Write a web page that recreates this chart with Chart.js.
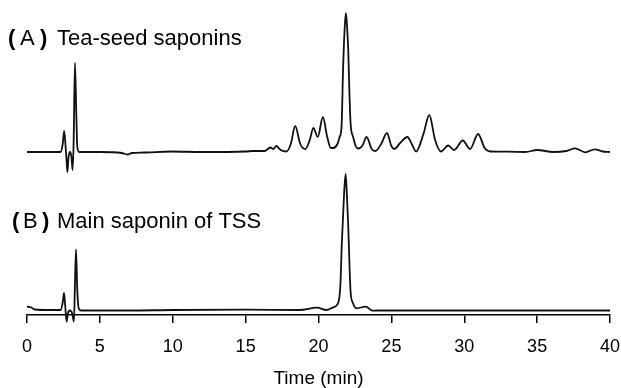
<!DOCTYPE html>
<html>
<head>
<meta charset="utf-8">
<script src="https://cdn.jsdelivr.net/npm/chart.js@4"></script>
<style>
  html, body { margin: 0; padding: 0; background: #fff; }
  #wrap { width: 621px; height: 388px; position: relative; }
</style>
</head>
<body>
<div id="wrap"><canvas id="c"></canvas></div>
<script>
// retention time (min) and detector response
const timeA = [0, 1.5, 2.3, 2.45, 2.55, 2.65, 2.72, 2.77, 2.85, 2.95, 3.05, 3.13, 3.2, 3.29, 3.38, 3.45, 3.59,
  5, 6.5, 6.9, 7.2, 8, 9.9, 12, 15, 15.5, 16.3, 16.7, 16.9, 17.1, 17.4, 17.8, 18.1, 18.4, 18.75, 19.1, 19.4,
  19.65, 19.95, 20.3, 20.6, 20.85, 21.0, 21.3, 21.45, 21.58, 21.69, 21.8, 21.88, 21.96, 22.04, 22.12, 22.2,
  22.38, 22.55, 22.72, 23.0, 23.3, 23.65, 23.9, 24.3, 24.7, 25.0, 25.2, 25.6, 26.1, 26.4, 26.7, 27.2, 27.6,
  28.0, 28.4, 28.9, 29.3, 29.9, 30.4, 30.95, 31.4, 31.8, 33, 34.2, 35.0, 36.1, 37.0, 37.6, 38.3, 38.96, 39.5, 40];
const signalA = [0, 0, 0, 8, 21, 5, -10, -20, -5, 0, -5, -18, 10, 89, 40, 5, 0,
  0, -1, -2.5, -1, -0.5, 0.5, 0, 0.5, 1, 1, 4.5, 3, 6, 2, 0.5, 8, 26, 8, 3, 12,
  24, 15, 35, 15, 4, 4, 8, 15, 25, 85, 125, 139, 125, 102, 60, 29,
  15, 6, 3.5, 6, 15, 3, 1, 8, 19, 6, 3, 9, 15, 8, 0.5, 18, 37,
  12, 0.5, 6.5, 2, 11.5, 3, 18, 4, 0.5, 0.3, 0, 2, 0, 1, 3.7, -0.3, 2.7, 0.5, 0];

const timeB = [0, 0.3, 0.55, 1.5, 2.3, 2.45, 2.54, 2.62, 2.72, 2.8, 2.95, 3.1, 3.22, 3.28, 3.36, 3.45, 3.55, 3.7,
  7, 10, 15, 18.7, 19.9, 20.55, 21.0, 21.35, 21.5, 21.6, 21.75, 21.86, 21.95, 22.04, 22.2, 22.35, 22.6,
  23.25, 23.7, 24, 40];
const signalB = [4, 3, 1, 0.5, 0.5, 8, 17.5, 5, -11, -3, 0, -3, -11, 20, 61, 20, 2, 0,
  0, 0.5, 0.8, 0.5, 2.8, 0.5, 3.2, 7.5, 25, 67.5, 115, 136.5, 115, 84, 19, 8, 2.2,
  3.8, -0.2, 0, 0];

const xTicks = [0, 5, 10, 15, 20, 25, 30, 35, 40];

// vertical offsets of the stacked traces
const offsetA = 163;
const offsetB = 4.5;

const toPoints = (t, s, off) => t.map((x, i) => ({ x: x, y: s[i] + off }));

const labelsPlugin = {
  id: "panelLabels",
  afterDatasetsDraw(chart) {
    const ctx = chart.ctx;
    ctx.save();
    ctx.fillStyle = "#000";
    ctx.textBaseline = "alphabetic";
    const draw = (letter, text, xs, base) => {
      ctx.font = "bold 22px 'Liberation Sans', Arial, sans-serif";
      ctx.fillText("(", xs[0], base);
      ctx.fillText(")", xs[2], base);
      ctx.font = "22px 'Liberation Sans', Arial, sans-serif";
      ctx.fillText(letter, xs[1], base);
      ctx.fillText(text, xs[3], base);
    };
    draw("A", "Tea-seed saponins", [8, 20, 40, 57], 44.5);
    draw("B", "Main saponin of TSS", [12, 23, 42, 57], 228);
    ctx.restore();
  }
};

new Chart(document.getElementById("c"), {
  type: "line",
  data: {
    datasets: [
      {
        label: "Tea-seed saponins",
        data: toPoints(timeA, signalA, offsetA),
        borderColor: "#111",
        borderWidth: 1.8,
        pointRadius: 0,
        cubicInterpolationMode: "monotone",
        clip: false
      },
      {
        label: "Main saponin of TSS",
        data: toPoints(timeB, signalB, offsetB),
        borderColor: "#111",
        borderWidth: 1.8,
        pointRadius: 0,
        cubicInterpolationMode: "monotone",
        clip: false
      }
    ]
  },
  options: {
    responsive: true,
    maintainAspectRatio: false,
    animation: false,
    layout: { padding: { left: 27, right: 11, top: 0, bottom: 0 } },
    plugins: {
      legend: { display: false },
      tooltip: { enabled: false }
    },
    scales: {
      x: {
        type: "linear",
        min: 0,
        max: 40,
        afterBuildTicks: (axis) => { axis.ticks = xTicks.map(v => ({ value: v })); },
        afterFit: (axis) => { axis.height = 73; axis.paddingLeft = 0; axis.paddingRight = 0; },
        border: { display: true, color: "#000", width: 1.5 },
        grid: { drawOnChartArea: false, drawTicks: true, tickLength: 8, color: "#000", lineWidth: 1.5 },
        ticks: {
          color: "#000",
          padding: 15,
          maxRotation: 0,
          font: { family: "'Liberation Sans', Arial, sans-serif", size: 18, lineHeight: 1 }
        },
        title: {
          display: true,
          text: "Time (min)",
          color: "#000",
          padding: { top: 0, bottom: 0 },
          font: { family: "'Liberation Sans', Arial, sans-serif", size: 19, lineHeight: 1 }
        }
      },
      y: {
        display: false,
        min: 0,
        max: 315
      }
    }
  },
  plugins: [labelsPlugin]
});
</script>
</body>
</html>
